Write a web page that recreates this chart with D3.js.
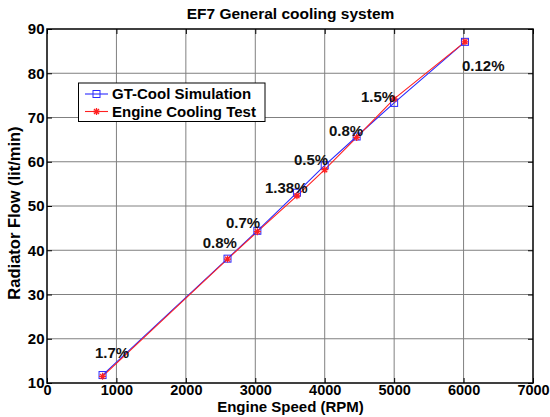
<!DOCTYPE html>
<html><head><meta charset="utf-8">
<script src="https://cdn.jsdelivr.net/npm/d3@7"></script>
<style>body{margin:0;background:#fff}svg{display:block}text{font-family:"Liberation Sans",Arial,sans-serif;font-weight:bold}</style>
</head><body>
<svg id="c" width="550" height="417"></svg>
<script>
const rpm = [800, 2600, 3030, 3600, 4000, 4460, 5000, 6020];
const simFlow = [11.8, 38.1, 44.4, 53.0, 59.2, 65.7, 73.3, 87.1];
const testFlow = [11.5, 38.0, 44.2, 52.3, 58.2, 65.5, 74.2, 87.1];
const xTicks = [0,1000,2000,3000,4000,5000,6000,7000];
const yTicks = [10,20,30,40,50,60,70,80,90];
const noteText = ["1.7%","0.8%","0.7%","1.38%","0.5%","0.8%","1.5%","0.12%"];
const noteRpm = [691, 2243, 2578, 3140, 3558, 4062, 4522, 5977];
const noteFlow = [15.7, 40.5, 45.0, 52.9, 59.3, 65.8, 73.4, 80.5];
const seriesNames = ["GT-Cool Simulation","Engine Cooling Test"];

const svg = d3.select("#c");
const L=47,R=533,T=29,B=383;
const x = d3.scaleLinear().domain([0,7000]).range([L,R]);
const y = d3.scaleLinear().domain([10,90]).range([B,T]);
const BLUE="#2a2aff", RED="#ff2020";

// grid
svg.append("g").selectAll("line").data(xTicks.slice(1,-1)).join("line")
  .attr("x1",d=>x(d)).attr("x2",d=>x(d)).attr("y1",T).attr("y2",B)
  .attr("stroke","#808080").attr("stroke-width",1);
svg.append("g").selectAll("line").data(yTicks.slice(1,-1)).join("line")
  .attr("y1",d=>y(d)).attr("y2",d=>y(d)).attr("x1",L).attr("x2",R)
  .attr("stroke","#808080").attr("stroke-width",1);

// axes
const xa = svg.append("g").attr("class","xa").attr("transform",`translate(0,${B})`)
  .call(d3.axisBottom(x).tickValues(xTicks).tickSize(-5).tickPadding(2).tickFormat(d3.format("d")));
const ya = svg.append("g").attr("class","ya").attr("transform",`translate(${L},0)`)
  .call(d3.axisLeft(y).tickValues(yTicks).tickSize(-5).tickPadding(2.5));
svg.append("g").attr("transform",`translate(0,${T})`)
  .call(d3.axisTop(x).tickValues(xTicks).tickSize(-5).tickFormat(""));
svg.append("g").attr("transform",`translate(${R},0)`)
  .call(d3.axisRight(y).tickValues(yTicks).tickSize(-5).tickFormat(""));
svg.selectAll(".domain").remove();
svg.selectAll(".tick text").attr("fill","#000").style("font-family","Liberation Sans, Arial, sans-serif").style("font-weight","bold");
xa.selectAll(".tick text").attr("font-size","14.5px");
ya.selectAll(".tick text").attr("font-size","15px");
svg.selectAll(".tick line").attr("stroke","#000");
svg.append("rect").attr("x",L).attr("y",T).attr("width",R-L).attr("height",B-T)
  .attr("fill","none").attr("stroke","#000").attr("stroke-width",1.5);

// lines
const pts = (arr)=>rpm.map((r,i)=>[r,arr[i]]);
const line = d3.line().x(d=>x(d[0])).y(d=>y(d[1]));
svg.append("path").datum(pts(simFlow)).attr("d",line).attr("fill","none").attr("stroke",BLUE).attr("stroke-width",1.1);
svg.append("path").datum(pts(testFlow)).attr("d",line).attr("fill","none").attr("stroke",RED).attr("stroke-width",1.1);

function square(g,cx,cy){g.append("rect").attr("x",cx-3.5).attr("y",cy-3.5).attr("width",7).attr("height",7).attr("fill","none").attr("stroke",BLUE).attr("stroke-width",1);}
function star(g,cx,cy){
  const s=3.5, d=2.5;
  const p=`M${cx-s},${cy}L${cx+s},${cy}M${cx},${cy-s}L${cx},${cy+s}M${cx-d},${cy-d}L${cx+d},${cy+d}M${cx-d},${cy+d}L${cx+d},${cy-d}`;
  g.append("path").attr("d",p).attr("stroke",RED).attr("stroke-width",1.3).attr("fill","none");
}
const mk = svg.append("g");
pts(simFlow).forEach(d=>square(mk,x(d[0]),y(d[1])));
pts(testFlow).forEach(d=>star(mk,x(d[0]),y(d[1])));

// notes
svg.append("g").selectAll("text").data(noteText).join("text")
  .attr("x",(d,i)=>x(noteRpm[i])).attr("y",(d,i)=>y(noteFlow[i]))
  .attr("font-size","15px").attr("fill","#111").text(d=>d);

// legend
const lg = svg.append("g");
lg.append("rect").attr("x",78.5).attr("y",83).attr("width",186.5).attr("height",38.5).attr("fill","#fff").attr("stroke","#000").attr("stroke-width",1);
const ly=[94,111.5];
lg.append("line").attr("x1",85).attr("x2",108).attr("y1",ly[0]).attr("y2",ly[0]).attr("stroke",BLUE).attr("stroke-width",1.1);
square(lg,96.5,ly[0]);
lg.append("line").attr("x1",85).attr("x2",108).attr("y1",ly[1]).attr("y2",ly[1]).attr("stroke",RED).attr("stroke-width",1.1);
star(lg,96.5,ly[1]);
lg.selectAll("text.l").data(seriesNames).join("text").attr("class","l")
  .attr("x",112).attr("y",(d,i)=>ly[i]+5).attr("font-size","15px").attr("fill","#000").text(d=>d);

// titles
svg.append("text").attr("x",290.5).attr("y",19).attr("text-anchor","middle").attr("font-size","15.5px").text("EF7 General cooling system");
svg.append("text").attr("x",290.5).attr("y",411.5).attr("text-anchor","middle").attr("font-size","15px").text("Engine Speed (RPM)");
svg.append("text").attr("transform","translate(20,213) rotate(-90)").attr("text-anchor","middle").attr("font-size","16.5px").text("Radiator Flow (lit/min)");
</script>
</body></html>
